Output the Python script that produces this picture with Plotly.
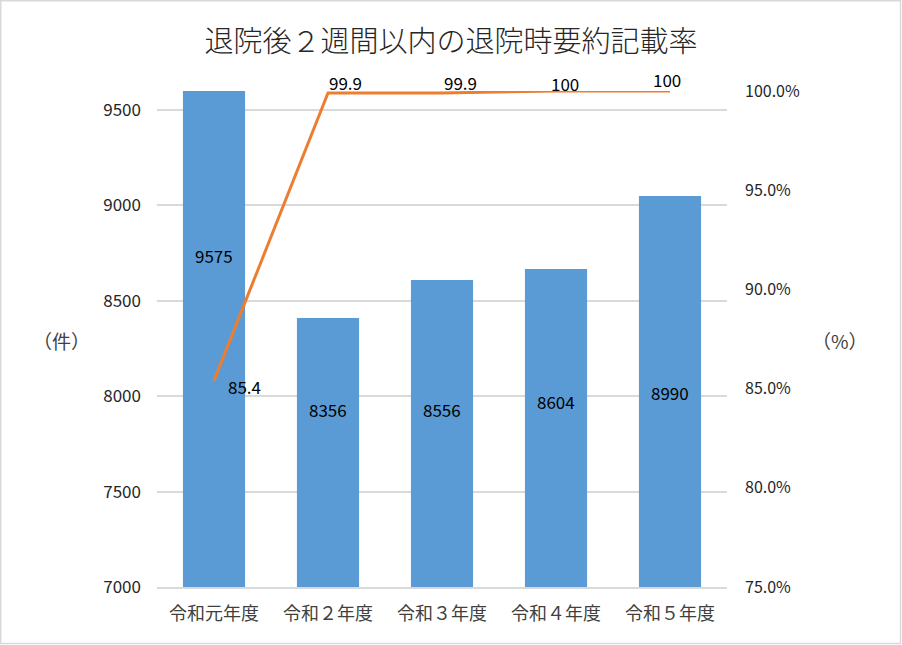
import plotly.graph_objects as go

categories = ["令和元年度", "令和２年度", "令和３年度", "令和４年度", "令和５年度"]
bar_values = [9600, 8410, 8609, 8667, 9050]
bar_labels = ["9575", "8356", "8556", "8604", "8990"]
rate_values = [85.4, 99.9, 99.9, 100, 100]
rate_labels = ["85.4", "99.9", "99.9", "100", "100"]

# label placement (style only)
bar_label_y = [8740, 7928, 7928, 7970, 8022]
rate_xshift = [12, -1, 0, -7, -19]
rate_yshift = [-6, 10, 10, 8, 12]

FONT = "Noto Sans CJK JP"
W, H = 902, 645
L, R, T, B = 157, 175, 91, 58

fig = go.Figure()
fig.add_trace(go.Bar(
    x=categories, y=bar_values, marker_color="#5B9BD5", marker_line_width=0,
    yaxis="y", hoverinfo="skip",
))
fig.add_trace(go.Scatter(
    x=categories, y=rate_values, mode="lines",
    line=dict(color="#ED7D31", width=3), yaxis="y2", cliponaxis=False,
    hoverinfo="skip",
))

for c, lab, ly in zip(categories, bar_labels, bar_label_y):
    fig.add_annotation(x=c, y=ly, xref="x", yref="y", text=lab, showarrow=False,
                       font=dict(family=FONT, size=17, color="#000000"))

for c, v, lab, xs, ys in zip(categories, rate_values, rate_labels, rate_xshift, rate_yshift):
    fig.add_annotation(x=c, y=v, xref="x", yref="y2", text=lab, showarrow=False,
                       xanchor="left", yanchor="middle", xshift=xs, yshift=ys,
                       font=dict(family=FONT, size=17, color="#000000"))

pw = W - L - R
ph = H - T - B
fig.add_shape(type="rect", xref="paper", yref="paper",
              x0=-L / pw + 0.75 / pw, x1=1 + (R - 1.5) / pw,
              y0=-(B - 1.5) / ph, y1=1 + (T - 0.75) / ph,
              line=dict(color="#D9D9D9", width=1.5), layer="below")

fig.add_annotation(xref="paper", yref="paper", x=-(L - 31) / pw, y=(587 - 340) / ph,
                   text="（件）", showarrow=False,
                   font=dict(family=FONT, size=19, color="#404040"))
fig.add_annotation(xref="paper", yref="paper", x=1 + (870 - (W - R)) / pw, y=(587 - 340) / ph,
                   text="（%）", showarrow=False,
                   font=dict(family=FONT, size=19, color="#404040"))

fig.update_layout(
    width=W, height=H,
    margin=dict(l=L, r=R, t=T, b=B),
    paper_bgcolor="white", plot_bgcolor="white",
    showlegend=False,
    bargap=0.455,
    title=dict(text="退院後２週間以内の退院時要約記載率", x=0.5, xanchor="center",
               y=1 - 42 / H, yanchor="middle",
               font=dict(family=FONT, size=29, color="#262626", weight=300)),
    xaxis=dict(showgrid=False, showline=True, linecolor="#D9D9D9", linewidth=1.5,
               ticks="", tickfont=dict(family=FONT, size=18, color="#404040"),
               ticklabelstandoff=10),
    yaxis=dict(range=[7000, 9600], dtick=500, tick0=7000, showgrid=True,
               gridcolor="#D9D9D9", gridwidth=1.5, zeroline=False, showline=False,
               tickfont=dict(family=FONT, size=17, color="#262626"),
               ticklabelstandoff=15),
    yaxis2=dict(range=[75, 100], dtick=5, overlaying="y", side="right",
                showgrid=False, zeroline=False, showline=False,
                tickformat=".1f", ticksuffix="%",
                tickfont=dict(family=FONT, size=16, color="#262626"),
                ticklabelstandoff=17),
)

fig.write_html("out.html", config={"displayModeBar": False},
               post_script="document.body.style.margin='0';")
